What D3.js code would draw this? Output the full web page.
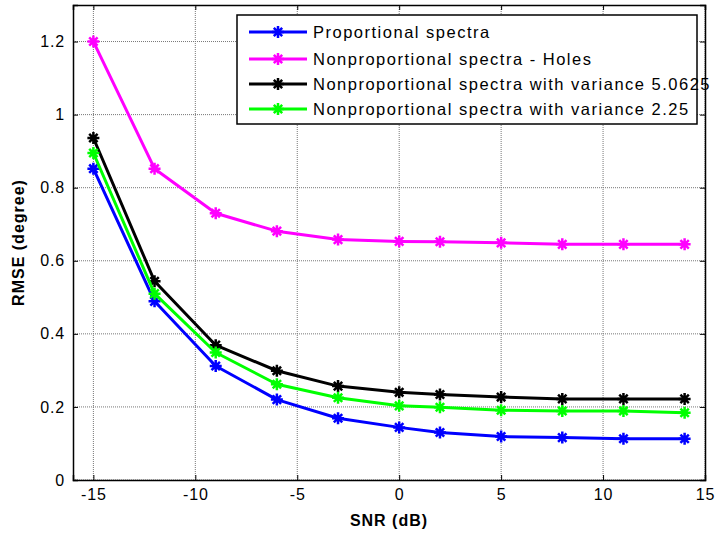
<!DOCTYPE html>
<html><head><meta charset="utf-8">
<script src="https://cdn.jsdelivr.net/npm/d3@7"></script>
<style>body{margin:0;background:#fff}svg{display:block}</style>
</head><body>
<svg id="c" width="716" height="535"></svg>
<script>
const snr = [-15, -12, -9, -6, -3, 0, 2, 5, 8, 11, 14];
const proportional = [0.852, 0.489, 0.312, 0.220, 0.169, 0.144, 0.130, 0.119, 0.116, 0.113, 0.113];
const holes = [1.200, 0.852, 0.730, 0.681, 0.658, 0.653, 0.652, 0.649, 0.645, 0.645, 0.645];
const var50625 = [0.936, 0.544, 0.369, 0.299, 0.257, 0.240, 0.234, 0.227, 0.222, 0.222, 0.222];
const var225 = [0.895, 0.510, 0.349, 0.262, 0.225, 0.203, 0.199, 0.191, 0.189, 0.189, 0.184];
const seriesNames = ["Proportional spectra", "Nonproportional spectra - Holes", "Nonproportional spectra with variance 5.0625", "Nonproportional spectra with variance 2.25"];
const seriesColors = ["#0000ff", "#ff00ff", "#000000", "#00ff00"];
const xTicks = [-15, -10, -5, 0, 5, 10, 15];
const yTicks = [0, 0.2, 0.4, 0.6, 0.8, 1, 1.2];

const series = [proportional, holes, var50625, var225];
const L = 73, R = 705, T = 5, B = 480;
const svg = d3.select("#c");
const x = d3.scaleLinear().domain([-16, 15]).range([L, R]);
const y = d3.scaleLinear().domain([0, 1.3]).range([B, T]);
const font = "'Liberation Sans', Arial, sans-serif";

// grid
const g = svg.append("g");
g.selectAll(".gx").data(xTicks).enter().append("line")
  .attr("x1", d => x(d)).attr("x2", d => x(d)).attr("y1", T).attr("y2", B)
  .attr("stroke", "#777").attr("stroke-width", 1).attr("stroke-dasharray", "1,1");
g.selectAll(".gy").data(yTicks).enter().append("line")
  .attr("y1", d => y(d)).attr("y2", d => y(d)).attr("x1", L).attr("x2", R)
  .attr("stroke", "#777").attr("stroke-width", 1).attr("stroke-dasharray", "1,1");

// axes
const ax = d3.axisBottom(x).tickValues(xTicks).tickSize(-5).tickPadding(9).tickFormat(d => String(d));
const ay = d3.axisLeft(y).tickValues(yTicks).tickSize(-5).tickPadding(8).tickFormat(d => String(d));
const axT = d3.axisTop(x).tickValues(xTicks).tickSize(-5).tickFormat("");
const ayR = d3.axisRight(y).tickValues(yTicks).tickSize(-5).tickFormat("");
function style(sel){
  sel.select(".domain").attr("stroke", "#000").attr("stroke-width", 1.5);
  sel.selectAll(".tick line").attr("stroke", "#000");
  sel.selectAll("text").attr("font-family", font).attr("font-size", 16).attr("letter-spacing", "0.8px").attr("fill", "#000");
}
svg.append("g").attr("transform", `translate(0,${B})`).call(ax).call(style);
svg.append("g").attr("transform", `translate(${L},0)`).call(ay).call(style);
svg.append("g").attr("transform", `translate(0,${T})`).call(axT).call(style);
svg.append("g").attr("transform", `translate(${R},0)`).call(ayR).call(style);

// lines
const line = d3.line().x((d, i) => x(snr[i])).y(d => y(d));
function star(s){
  return `M${-s},0H${s}M0,${-s}V${s}M${-s*0.7},${-s*0.7}L${s*0.7},${s*0.7}M${-s*0.7},${s*0.7}L${s*0.7},${-s*0.7}`;
}
series.forEach((vals, k) => {
  const c = seriesColors[k];
  svg.append("path").datum(vals).attr("d", line).attr("fill", "none")
    .attr("stroke", c).attr("stroke-width", 3).attr("stroke-linejoin", "round");
  svg.append("g").selectAll("path").data(vals).enter().append("path")
    .attr("transform", (d, i) => `translate(${x(snr[i])},${y(d)})`)
    .attr("d", star(6)).attr("stroke", c).attr("stroke-width", 2.5).attr("fill", "none");
});

// legend
const lg = svg.append("g");
lg.append("rect").attr("x", 237).attr("y", 15).attr("width", 460).attr("height", 109)
  .attr("fill", "#fff").attr("stroke", "#000").attr("stroke-width", 1.5);
const ly = [32, 59, 84, 109];
seriesNames.forEach((n, k) => {
  lg.append("line").attr("x1", 249).attr("x2", 307).attr("y1", ly[k]).attr("y2", ly[k])
    .attr("stroke", seriesColors[k]).attr("stroke-width", 3);
  lg.append("path").attr("transform", `translate(278,${ly[k]})`).attr("d", star(6))
    .attr("stroke", seriesColors[k]).attr("stroke-width", 2.5).attr("fill", "none");
  lg.append("text").attr("x", 313).attr("y", ly[k]).attr("dy", "0.35em")
    .attr("font-family", font).attr("font-size", 16.5).attr("letter-spacing", "1.5px").text(n);
});

// titles
svg.append("text").attr("x", (L + R) / 2).attr("y", 526).attr("text-anchor", "middle")
  .attr("font-family", font).attr("font-size", 16).attr("letter-spacing", "1px").attr("font-weight", "bold").text("SNR (dB)");
svg.append("text").attr("transform", `translate(24,${(T + B) / 2}) rotate(-90)`).attr("text-anchor", "middle")
  .attr("font-family", font).attr("font-size", 16).attr("letter-spacing", "1px").attr("font-weight", "bold").text("RMSE (degree)");
</script>
</body></html>
